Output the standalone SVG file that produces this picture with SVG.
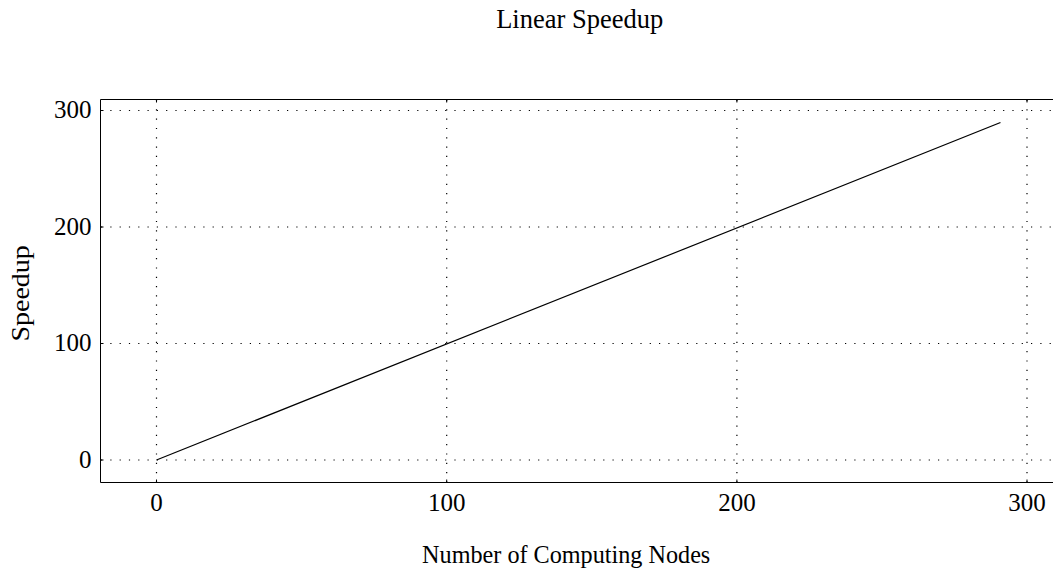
<svg xmlns="http://www.w3.org/2000/svg" width="1053" height="571" viewBox="0 0 1053 571">
  <style>
    text { font-family: "Liberation Serif", "Times New Roman", serif; font-size: 25px; fill: #000; }
    .title { font-size: 26.5px; }
    .xlabel { font-size: 24.2px; }
    .grid { stroke: #000; stroke-width: 1.2; stroke-dasharray: 1.2 8.1; fill: none; }
    .frame { stroke: #000; stroke-width: 1; fill: none; }
    .tick { stroke: #000; stroke-width: 1; }
    .curve { stroke: #000; stroke-width: 1.2; fill: none; }
  </style>
  <rect width="1053" height="571" fill="#fff"/>

  <text class="title" x="579.7" y="27.5" text-anchor="middle">Linear Speedup</text>

  <!-- grid -->
  <g id="grid">
    <line class="grid" x1="101" y1="110.5" x2="1052" y2="110.5"/>
    <line class="grid" x1="101" y1="227" x2="1052" y2="227"/>
    <line class="grid" x1="101" y1="343.5" x2="1052" y2="343.5"/>
    <line class="grid" x1="101" y1="460" x2="1052" y2="460"/>
    <line class="grid" x1="156.5" y1="100" x2="156.5" y2="482"/>
    <line class="grid" x1="446.7" y1="100" x2="446.7" y2="482"/>
    <line class="grid" x1="736.9" y1="100" x2="736.9" y2="482"/>
    <line class="grid" x1="1027" y1="100" x2="1027" y2="482"/>
  </g>

  <!-- axes frame and ticks -->
  <g id="frame">
    <polyline class="frame" points="1053,99.5 100.5,99.5 100.5,482.5 1053,482.5"/>
    <line class="tick" x1="156.5" y1="99.5" x2="156.5" y2="102.5"/>
    <line class="tick" x1="446.7" y1="99.5" x2="446.7" y2="102.5"/>
    <line class="tick" x1="736.9" y1="99.5" x2="736.9" y2="102.5"/>
    <line class="tick" x1="1027" y1="99.5" x2="1027" y2="102.5"/>
    <line class="tick" x1="156.5" y1="482.5" x2="156.5" y2="479.5"/>
    <line class="tick" x1="446.7" y1="482.5" x2="446.7" y2="479.5"/>
    <line class="tick" x1="736.9" y1="482.5" x2="736.9" y2="479.5"/>
    <line class="tick" x1="1027" y1="482.5" x2="1027" y2="479.5"/>
    <line class="tick" x1="100.5" y1="110.5" x2="103.5" y2="110.5"/>
    <line class="tick" x1="100.5" y1="227" x2="103.5" y2="227"/>
    <line class="tick" x1="100.5" y1="343.5" x2="103.5" y2="343.5"/>
    <line class="tick" x1="100.5" y1="460" x2="103.5" y2="460"/>
  </g>

  <!-- tick labels -->
  <g id="labels">
    <text x="156.5" y="511" text-anchor="middle">0</text>
    <text x="446.7" y="511" text-anchor="middle">100</text>
    <text x="736.9" y="511" text-anchor="middle">200</text>
    <text x="1027" y="511" text-anchor="middle">300</text>
    <text x="91.5" y="118" text-anchor="end">300</text>
    <text x="91.5" y="234.5" text-anchor="end">200</text>
    <text x="91.5" y="351" text-anchor="end">100</text>
    <text x="91.5" y="467.5" text-anchor="end">0</text>
  </g>

  <text class="xlabel" x="566.2" y="563" text-anchor="middle">Number of Computing Nodes</text>
  <text transform="translate(28.5 293.4) rotate(-90) scale(1.12 1)" text-anchor="middle">Speedup</text>

  <!-- speedup curve -->
  <g id="connectors">
    <polyline class="curve" points="156.5,460 1000.5,122.5"/>
  </g>
</svg>
